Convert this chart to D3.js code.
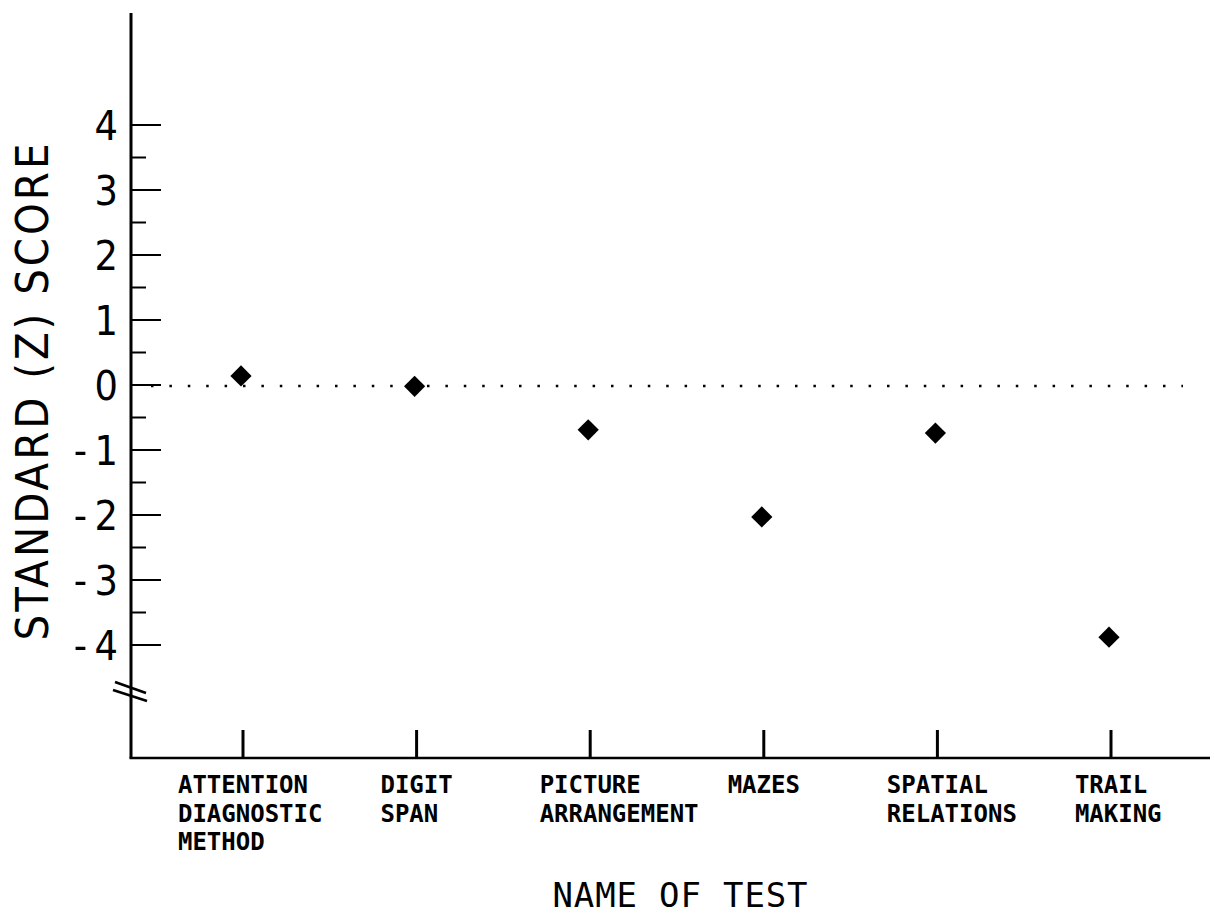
<!DOCTYPE html>
<html lang="en">
<head>
    <meta charset="UTF-8">
    <title>Standard (Z) Score by Test</title>
    <script src="https://d3js.org/d3.v7.min.js"></script>
    <style>
        body { margin: 0; background: #fff; }
        svg { display: block; }
        .tick-label { font-family: "DejaVu Sans Condensed", "DejaVu Sans", sans-serif; font-size: 41px; fill: #000; }
        .cat-label { font-family: "DejaVu Sans Mono", monospace; font-weight: bold; font-size: 24px; fill: #000; }
        .axis-title { font-family: "DejaVu Sans Condensed", "DejaVu Sans", sans-serif; font-size: 45px; fill: #000; }
        .x-title { font-family: "DejaVu Sans Mono", monospace; font-size: 34px; fill: #000; }
    </style>
</head>
<body>
<div id="chart"></div>
<script>
    // Data
    const tests = ["ATTENTION DIAGNOSTIC METHOD", "DIGIT SPAN", "PICTURE ARRANGEMENT",
                   "MAZES", "SPATIAL RELATIONS", "TRAIL MAKING"];
    const labelLines = [
        ["ATTENTION", "DIAGNOSTIC", "METHOD"],
        ["DIGIT", "SPAN"],
        ["PICTURE", "ARRANGEMENT"],
        ["MAZES"],
        ["SPATIAL", "RELATIONS"],
        ["TRAIL", "MAKING"]
    ];
    const zScores = [0.14, -0.02, -0.69, -2.03, -0.74, -3.88];
    const majorTicks = [-4, -3, -2, -1, 0, 1, 2, 3, 4];
    const minorTicks = [-3.5, -2.5, -1.5, -0.5, 0.5, 1.5, 2.5, 3.5];

    const width = 1214, height = 918;
    const axisX = 131, axisY = 758, axisTop = 13, axisRight = 1210;

    const svg = d3.select("#chart").append("svg")
        .attr("width", width)
        .attr("height", height);

    // Scales
    const y = d3.scaleLinear().domain([-4, 4]).range([645, 125]);
    const x = d3.scalePoint().domain(tests).range([243, 1111]);

    // Axis lines
    svg.append("line")
        .attr("x1", axisX).attr("x2", axisX)
        .attr("y1", axisTop).attr("y2", axisY)
        .attr("stroke", "#000").attr("stroke-width", 3);
    svg.append("line")
        .attr("x1", axisX - 1.5).attr("x2", axisRight)
        .attr("y1", axisY).attr("y2", axisY)
        .attr("stroke", "#000").attr("stroke-width", 2.5);

    // Y ticks
    svg.selectAll(".major")
        .data(majorTicks)
        .enter().append("line")
        .attr("x1", axisX).attr("x2", axisX + 30)
        .attr("y1", d => y(d)).attr("y2", d => y(d))
        .attr("stroke", "#000").attr("stroke-width", 2);
    svg.selectAll(".minor")
        .data(minorTicks)
        .enter().append("line")
        .attr("x1", axisX).attr("x2", axisX + 15)
        .attr("y1", d => y(d)).attr("y2", d => y(d))
        .attr("stroke", "#000").attr("stroke-width", 2);

    svg.selectAll(".tick-label")
        .data(majorTicks)
        .enter().append("text")
        .attr("class", "tick-label")
        .attr("x", 118)
        .attr("y", d => y(d) + 15)
        .attr("text-anchor", "end")
        .text(d => d < 0 ? "-\u2009" + Math.abs(d) : d);

    // Axis break mark
    const brk = svg.append("g").attr("stroke", "#000").attr("stroke-width", 2.5);
    brk.append("line").attr("x1", 115).attr("y1", 682).attr("x2", 146).attr("y2", 693);
    brk.append("line").attr("x1", 113).attr("y1", 690).attr("x2", 147).attr("y2", 701);

    // Zero reference line (dotted)
    svg.append("line")
        .attr("x1", 151).attr("x2", 1183)
        .attr("y1", y(0) + 1).attr("y2", y(0) + 1)
        .attr("stroke", "#000")
        .attr("stroke-width", 2.5)
        .attr("stroke-dasharray", "2.5,15.9");

    // X ticks
    svg.selectAll(".xtick")
        .data(tests)
        .enter().append("line")
        .attr("x1", d => x(d)).attr("x2", d => x(d))
        .attr("y1", axisY).attr("y2", axisY - 28)
        .attr("stroke", "#000").attr("stroke-width", 3);

    // Category labels: first line centred on tick, others left-aligned with it
    const charW = 14.45;
    tests.forEach((t, i) => {
        const lines = labelLines[i];
        const startX = x(t) - lines[0].length * charW / 2;
        const txt = svg.append("text")
            .attr("class", "cat-label")
            .attr("x", startX)
            .attr("y", 793);
        lines.forEach((ln, j) => {
            txt.append("tspan")
                .attr("x", startX)
                .attr("y", 793 + j * 28.5)
                .text(ln);
        });
    });

    // Points (diamonds)
    const diamond = d3.symbol().type(d3.symbolSquare).size(225);
    svg.selectAll(".pt")
        .data(zScores)
        .enter().append("path")
        .attr("d", diamond)
        .attr("transform", (d, i) => `translate(${x(tests[i]) - 2},${y(d)}) rotate(45)`)
        .attr("fill", "#000");

    // Titles
    svg.append("text")
        .attr("class", "axis-title")
        .attr("transform", "translate(48,392) rotate(-90)")
        .attr("text-anchor", "middle")
        .attr("textLength", 497)
        .attr("lengthAdjust", "spacing")
        .text("STANDARD (Z) SCORE");

    svg.append("text")
        .attr("class", "x-title")
        .attr("x", 680)
        .attr("y", 907)
        .attr("text-anchor", "middle")
        .attr("textLength", 255)
        .attr("lengthAdjust", "spacing")
        .text("NAME OF TEST");
</script>
</body>
</html>
